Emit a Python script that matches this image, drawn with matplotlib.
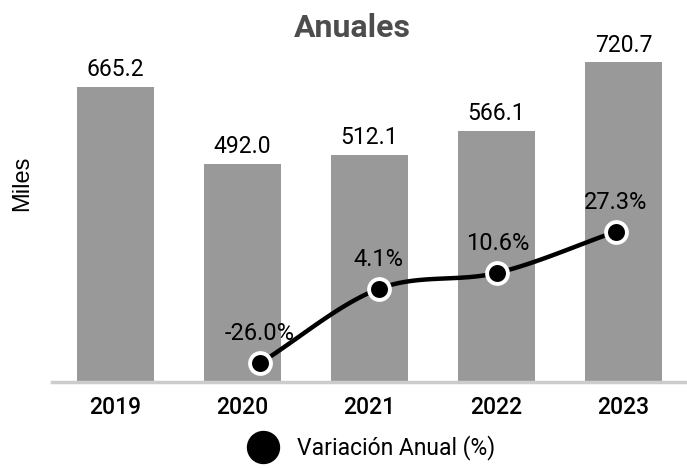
import numpy as np
import matplotlib
matplotlib.use("Agg")
import matplotlib.pyplot as plt
from matplotlib.lines import Line2D

years = ["2019", "2020", "2021", "2022", "2023"]
miles = [665.2, 492.0, 512.1, 566.1, 720.7]
var_years = [1, 2, 3, 4]
variacion = [-26.0, 4.1, 10.6, 27.3]

plt.rcParams["font.family"] = ["Roboto", "DejaVu Sans"]


def smooth(x, y, n=30):
    """Catmull-Rom curve through the given points (for drawing only)."""
    x = np.asarray(x, float)
    y = np.asarray(y, float)
    px = np.concatenate([[2 * x[0] - x[1]], x, [2 * x[-1] - x[-2]]])
    py = np.concatenate([[2 * y[0] - y[1]], y, [2 * y[-1] - y[-2]]])
    xs, ys = [], []
    t = np.linspace(0, 1, n)
    for i in range(1, len(px) - 2):
        for p, out in ((px, xs), (py, ys)):
            p0, p1, p2, p3 = p[i - 1], p[i], p[i + 1], p[i + 2]
            out.extend(0.5 * (2 * p1 + (-p0 + p2) * t
                              + (2 * p0 - 5 * p1 + 4 * p2 - p3) * t ** 2
                              + (-p0 + 3 * p1 - 3 * p2 + p3) * t ** 3))
    return xs, ys


fig = plt.figure(figsize=(6.87, 4.68), dpi=100)
rect = [52 / 687, (468 - 382) / 468, 635 / 687, 332 / 468]
ax = fig.add_axes(rect)
x = np.arange(len(years))
ax.bar(x, miles, width=0.61, color="#999999", zorder=1)
for xi, v in zip(x, miles):
    ax.annotate(f"{v:.1f}", (xi, v), xytext=(0, 4), textcoords="offset points",
                ha="center", va="bottom", fontsize=16.5, color="black")
ax.set_xlim(-0.5, 4.5)
ax.set_ylim(0, 748.6)
ax.set_xticks(x)
ax.set_xticklabels(years, fontsize=16.5, fontweight="medium")
ax.tick_params(axis="x", length=0, pad=10)
ax.set_yticks([])
for s in ["top", "right", "left"]:
    ax.spines[s].set_visible(False)
ax.spines["bottom"].set_color("#cccccc")
ax.spines["bottom"].set_linewidth(2.5)
fig.text(22 / 687, 1 - 183 / 468, "Miles", rotation=90, ha="center",
         va="center", fontsize=17, family="Liberation Sans")

# the line series sits on its own category scale
ax2 = fig.add_axes(rect, frameon=False)
ax2.set_xlim(-0.752, 4.598)
ax2.set_ylim(-33.6, 100.8)
ax2.axis("off")
sx, sy = smooth(var_years, variacion)
ax2.plot(sx, sy, color="black", lw=3.2, zorder=3)
ax2.plot(var_years, variacion, "o", ms=15, mfc="black", mec="white",
         mew=2.8, zorder=4)
for xi, v in zip(var_years, variacion):
    ax2.annotate(f"{v:.1f}%", (xi, v), xytext=(0, 13), textcoords="offset points",
                 ha="center", va="bottom", fontsize=17, color="black")

fig.text(352 / 687, 1 - 28 / 468, "Anuales", ha="center", va="center",
         fontsize=23, fontweight="bold", color="#4d4d4d")

handle = Line2D([], [], marker="o", ls="none", ms=23, mfc="black", mec="black")
fig.legend([handle], ["Variación Anual (%)"], loc="center",
           bbox_to_anchor=(372 / 687, 1 - 448 / 468), frameon=False,
           fontsize=16.5, handletextpad=0.9, handlelength=1.2)

fig.savefig("out.png", dpi=100)
